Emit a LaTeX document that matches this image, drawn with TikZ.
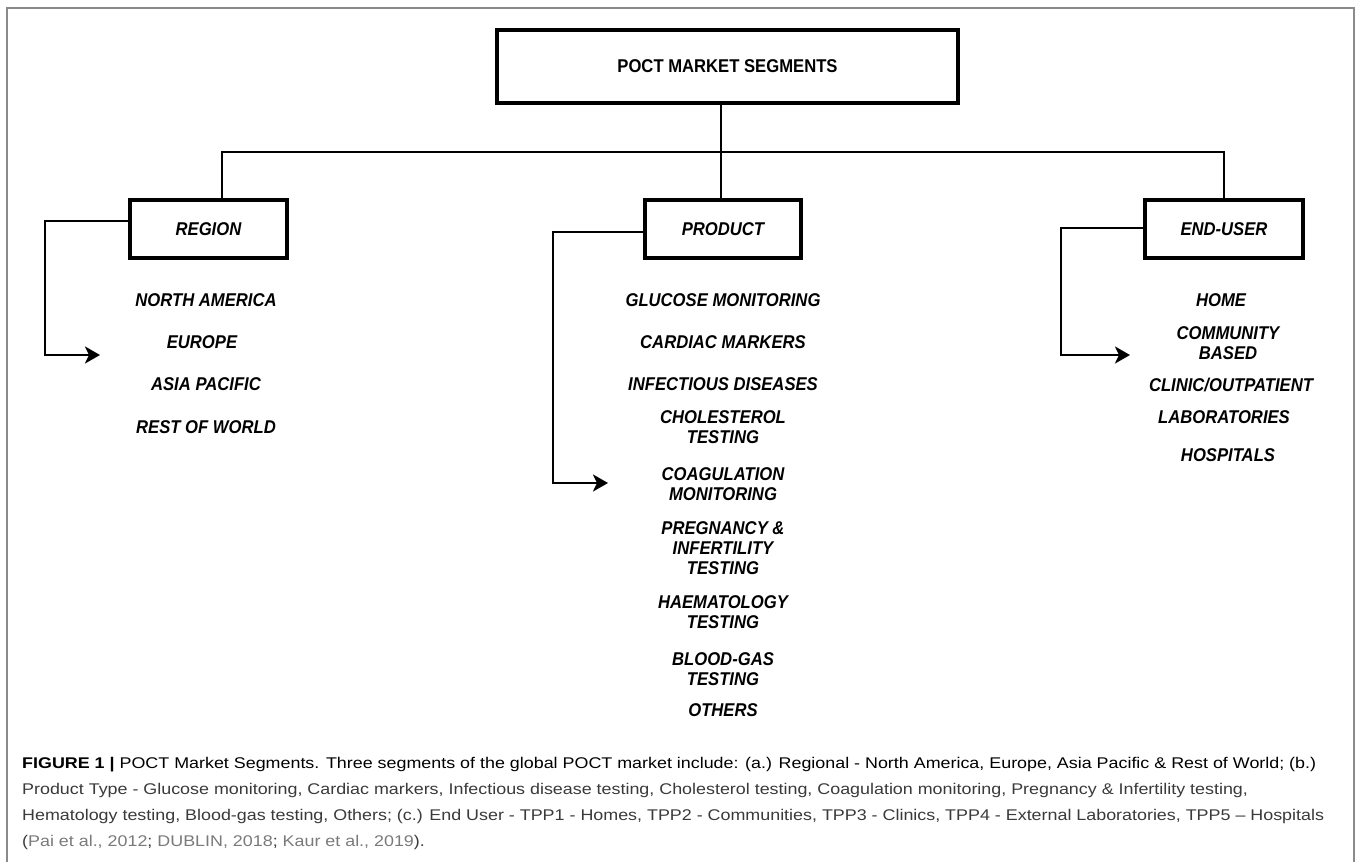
\documentclass[tikz,border=0pt]{standalone}
\usepackage{fontspec}
\usepackage{graphicx}
\usetikzlibrary{arrows.meta}
\newfontfamily\nfont[FakeStretch=0.9]{Liberation Sans}
\newfontfamily\capfam{Liberation Sans}
\newcommand\itemfont{\nfont\bfseries\itshape\fontsize{18.5}{20}\selectfont}
\newcommand\titlefont{\nfont\bfseries\fontsize{18.5}{20}\selectfont}
\newcommand\capfont{\capfam\fontsize{15.5}{18}\selectfont}
\definecolor{capgray}{HTML}{3A3A3A}
\definecolor{citegray}{HTML}{7A7A7A}
\definecolor{framegray}{HTML}{8A8A8A}
\newsavebox\capbox
\newlength\capwd
\begin{document}
\sbox\capbox{\capfont{\color{black}\bfseries FIGURE 1 |} POCT Market Segments. Three segments of the global POCT market include: (a.) Regional - North America, Europe, Asia Pacific \& Rest of World; (b.)}%
\setlength\capwd{\wd\capbox}%
\pgfmathsetmacro\capr{1294/\capwd}%
\begin{tikzpicture}[x=1pt,y=-1pt,
  segbox/.style={draw,line width=4pt,inner sep=0pt,font=\itemfont},
  topbox/.style={draw,line width=4pt,inner sep=0pt,font=\titlefont},
  link/.style={line width=2.6pt},
  arr/.style={line width=2.6pt,-{Stealth[length=15pt,width=17pt,inset=4pt]}},
  item/.style={anchor=north,inner sep=0pt,align=center,font=\itemfont},
  capline/.style={anchor=base west,inner sep=0pt,text=capgray}]
\useasboundingbox (0,0) rectangle (1358,862);
\fill[white] (0,0) rectangle (1358,862);
% outer frame
\draw[framegray,line width=1.5pt] (7,862) -- (7,8) -- (1354,8) -- (1354,862);

% boxes
\node[topbox,minimum width=461pt,minimum height=73pt] (top) at (727.5,66.5) {POCT MARKET SEGMENTS};
\node[segbox,minimum width=157pt,minimum height=58pt] (region) at (208.5,229) {REGION};
\node[segbox,minimum width=156pt,minimum height=58pt] (product) at (723,229) {PRODUCT};
\node[segbox,minimum width=158pt,minimum height=58pt] (enduser) at (1224,229) {END-USER};

% tree connectors
\coordinate (hub) at (721,152);
\draw[link] (hub |- top.south) -- (hub);
\draw[link] ([xshift=13.5pt]region.north) |- (hub) -| (enduser.north);
\draw[link] (hub) -- (hub |- product.north);

% brackets
\coordinate (rb) at (45,355);
\coordinate (ra) at (100,355);
\draw[arr] ([yshift=8pt]region.west) -| (rb) -- (ra);
\coordinate (pb) at (553,483);
\coordinate (pa) at (608,483);
\draw[arr] ([yshift=-3pt]product.west) -| (pb) -- (pa);
\coordinate (eb) at (1061,355);
\coordinate (ea) at (1130,355);
\draw[arr] ([yshift=1pt]enduser.west) -| (eb) -- (ea);

% region items
\node[item] (r1) at (206,293.5) {NORTH AMERICA};
\node[item] (r2) at (202,335.5) {EUROPE};
\node[item] (r3) at (206,377.5) {ASIA PACIFIC};
\node[item] (r4) at (206,420.5) {REST OF WORLD};

% product items
\node[item] (p1) at (723,293.5) {GLUCOSE MONITORING};
\node[item] (p2) at (723,335.5) {CARDIAC MARKERS};
\node[item] (p3) at (723,377.5) {INFECTIOUS DISEASES};
\node[item] (p4) at (723,410.5) {CHOLESTEROL\\TESTING};
\node[item] (p5) at (723,467.5) {COAGULATION\\MONITORING};
\node[item] (p6) at (723,521.5) {PREGNANCY \&\\INFERTILITY\\TESTING};
\node[item] (p7) at (723,595) {HAEMATOLOGY\\TESTING};
\node[item] (p8) at (723,652.5) {BLOOD-GAS\\TESTING};
\node[item] (p9) at (723,703) {OTHERS};

% end-user items
\node[item] (e1) at (1221,293.5) {HOME};
\node[item] (e2) at (1228,326) {COMMUNITY\\BASED};
\node[item] (e3) at (1231,378) {CLINIC/OUTPATIENT};
\node[item] (e4) at (1224,410.5) {LABORATORIES};
\node[item] (e5) at (1228,448.5) {HOSPITALS};

% caption
\node[capline] (c1) at (22,768.5) {\scalebox{\capr}[1]{\usebox\capbox}};
\node[capline] (c2) at (22,794.5) {\scalebox{\capr}[1]{\capfont Product Type - Glucose monitoring, Cardiac markers, Infectious disease testing, Cholesterol testing, Coagulation monitoring, Pregnancy \& Infertility testing,}};
\node[capline] (c3) at (22,820.5) {\scalebox{\capr}[1]{\capfont Hematology testing, Blood-gas testing, Others; (c.) End User - TPP1 - Homes, TPP2 - Communities, TPP3 - Clinics, TPP4 - External Laboratories, TPP5 – Hospitals}};
\node[capline] (c4) at (22,846.5) {\scalebox{\capr}[1]{\capfont (\textcolor{citegray}{Pai et al., 2012}; \textcolor{citegray}{DUBLIN, 2018}; \textcolor{citegray}{Kaur et al., 2019}).}};
\end{tikzpicture}
\end{document}
